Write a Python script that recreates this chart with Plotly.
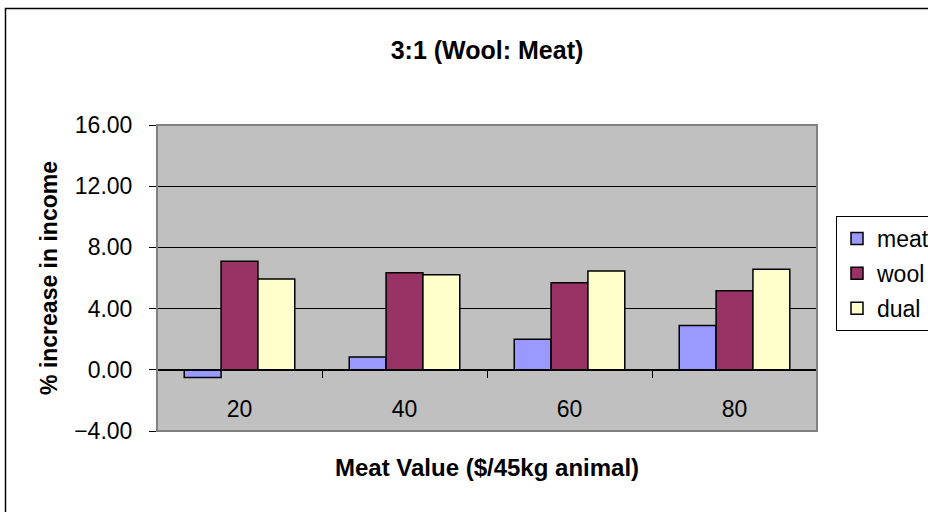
import plotly.graph_objects as go

# Meat value categories ($ per 45 kg animal)
categories = ["20", "40", "60", "80"]

# % increase in income for each breeding objective
meat = [-0.50, 0.84, 2.00, 2.90]
wool = [7.09, 6.35, 5.69, 5.17]
dual = [5.93, 6.22, 6.46, 6.57]

y_ticks = [-4, 0, 4, 8, 12, 16]

W, H = 928, 512
L, R, T, B = 157, 111, 125, 81
FONT = "Arial, Liberation Sans, sans-serif"

fig = go.Figure()
series = [("meat", meat, "#9999FF"), ("wool", wool, "#993366"), ("dual", dual, "#FFFFCC")]
for name, vals, col in series:
    fig.add_trace(go.Bar(
        x=categories, y=vals, name=name, legendgroup=name,
        marker=dict(color=col, line=dict(color="black", width=1.5)),
    ))

plot_w = W - L - R
plot_h = H - T - B


def px_x(p):
    return (p - L) / plot_w


def px_y(p):
    return (H - B - p) / plot_h


# zero line sits at this paper fraction of the [-4, 16] range
zero_pos = (0 - y_ticks[0]) / (y_ticks[-1] - y_ticks[0])

fig.update_layout(
    width=W, height=H,
    margin=dict(l=L, r=R, t=T, b=B, autoexpand=False),
    paper_bgcolor="white",
    plot_bgcolor="#C0C0C0",
    font=dict(family=FONT, size=23, color="black"),
    barmode="group", bargap=0.33, bargroupgap=0,
    title=dict(text="<b>3:1 (Wool: Meat)</b>", x=0.5, xref="paper", xanchor="center",
               y=1 - 50 / H, yref="container", yanchor="middle",
               font=dict(size=25, family=FONT)),
    xaxis=dict(
        anchor="free", position=zero_pos,
        showline=True, linecolor="black", linewidth=1,
        ticks="outside", ticklen=7, tickcolor="black", tickwidth=1,
        tickson="boundaries", showgrid=False,
        ticklabelstandoff=19,
        title=dict(text="<b>Meat Value ($/45kg animal)</b>", font=dict(size=24), standoff=37),
        fixedrange=True,
    ),
    yaxis=dict(
        range=[y_ticks[0], y_ticks[-1]], tickvals=y_ticks, tickformat=".2f",
        ticks="outside", ticklen=7, tickcolor="black", tickwidth=1,
        ticklabelstandoff=12,
        showgrid=True, gridcolor="black", gridwidth=1, zeroline=False,
        showline=False,
        title=dict(text="<b>% increase in income</b>", font=dict(size=23), standoff=10),
    ),
    legend=dict(
        x=px_x(836), y=px_y(216), xanchor="left", yanchor="top",
        bordercolor="black", borderwidth=1, bgcolor="white",
        font=dict(size=23), traceorder="grouped", tracegroupgap=2,
        itemwidth=30,
    ),
    showlegend=True,
)

# plot area border
fig.add_shape(type="rect", xref="paper", yref="paper", x0=0, x1=1, y0=0, y1=1,
              line=dict(color="#808080", width=2), layer="above")
# chart area border
fig.add_shape(type="rect", xref="paper", yref="paper",
              x0=px_x(5.5), x1=px_x(W + 20), y0=px_y(H + 20), y1=px_y(8.5),
              line=dict(color="black", width=1.5), layer="above")

fig.write_html("out.html")
